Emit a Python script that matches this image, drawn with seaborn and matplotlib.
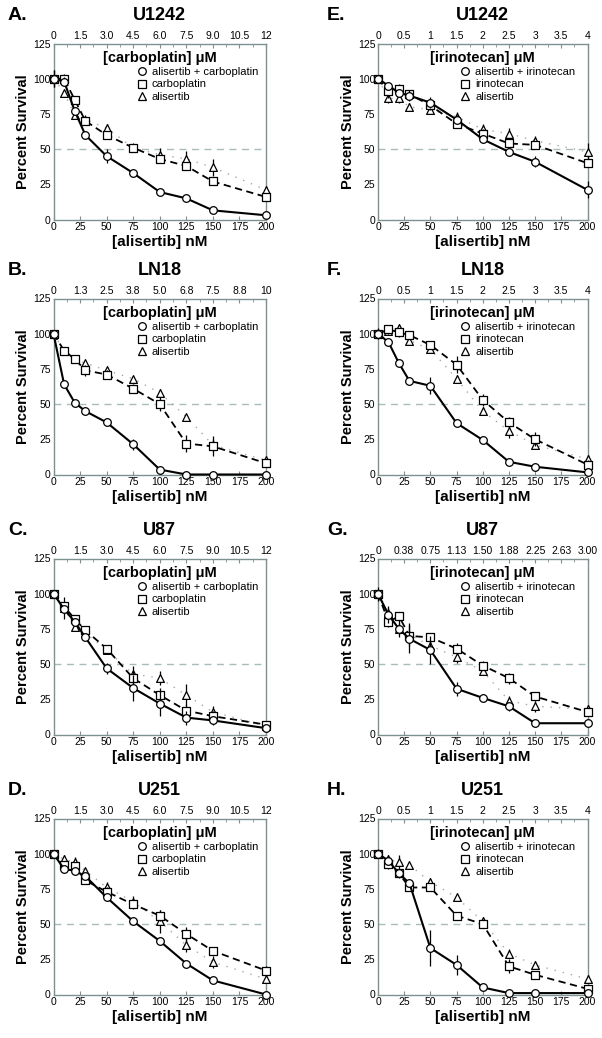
import matplotlib
matplotlib.use("Agg")
import matplotlib.pyplot as plt
from matplotlib.lines import Line2D
from matplotlib.ticker import MultipleLocator
import seaborn as sns
import pandas as pd

sns.set_theme(style="white")
plt.rcParams['font.family'] = ['Liberation Sans', 'DejaVu Sans']
plt.rcParams['text.color'] = 'black'
plt.rcParams['axes.labelcolor'] = 'black'
plt.rcParams['xtick.color'] = 'black'
plt.rcParams['ytick.color'] = 'black'

# ---------------- data ----------------
alisertib_nM = [0, 10, 20, 30, 50, 75, 100, 125, 150, 200]
bottom_ticks = [0, 25, 50, 75, 100, 125, 150, 175, 200]

top_carbo_12 = ["0", "1.5", "3.0", "4.5", "6.0", "7.5", "9.0", "10.5", "12"]
top_carbo_10 = ["0", "1.3", "2.5", "3.8", "5.0", "6.8", "7.5", "8.8", "10"]
top_irino_4 = ["0", "0.5", "1", "1.5", "2", "2.5", "3", "3.5", "4"]
top_irino_3 = ["0", "0.38", "0.75", "1.13", "1.50", "1.88", "2.25", "2.63", "3.00"]

panel_letters = ["A.", "B.", "C.", "D.", "E.", "F.", "G.", "H."]
cell_lines = ["U1242", "LN18", "U87", "U251", "U1242", "LN18", "U87", "U251"]
drugs = ["carboplatin"] * 4 + ["irinotecan"] * 4

# A: U1242 carboplatin
A_combo = [100, 98, 77, 60, 45, 33, 19.5, 15, 6.5, 3]
A_combo_err = [6, 3, 3, 2, 5, 3, 2, 2, 1.5, 1.5]
A_drug = [100, 100, 85, 70, 60, 51, 43, 38, 27, 16]
A_drug_err = [2, 3, 3, 3, 3, 3, 3, 3, 2, 3]
A_alis = [100, 90, 74, 71, 65, 51, 46, 43, 37, 21]
A_alis_err = [6, 2, 2, 3, 3, 2, 5, 6, 6, 3]

# B: LN18 carboplatin
B_combo = [100, 64, 51, 45, 37, 21.5, 3.5, 0, 0, 0]
B_combo_err = [2, 2, 2, 2, 2, 4, 2, 0.5, 0.5, 0.5]
B_drug = [100, 88, 82, 74, 71, 61, 50, 22, 20, 8]
B_drug_err = [2, 2, 2, 4, 3, 3, 5, 6, 7, 3]
B_alis = [100, 88, 82, 79, 74, 68, 58, 41, 21, 10]
B_alis_err = [2, 2, 2, 2, 2, 2, 3, 2, 4, 2]

# C: U87 carboplatin
C_combo = [100, 89, 80, 69, 47, 33, 22, 12, 10, 4.5]
C_combo_err = [2, 2, 2, 2, 4, 9, 9, 5, 3, 2]
C_drug = [100, 91, 82, 74, 61, 40, 28, 17, 13, 7]
C_drug_err = [2, 4, 2, 2, 2, 5, 5, 5, 4, 2]
C_alis = [100, 90, 76, 72, 60, 43, 40, 28, 16, 6]
C_alis_err = [2, 8, 2, 2, 2, 6, 5, 8, 4, 2]

# D: U251 carboplatin
D_combo = [100, 89, 88, 84, 69, 52, 38, 22, 10, 0]
D_combo_err = [2, 2, 2, 2, 2, 2, 2, 2, 2, 1]
D_drug = [100, 92, 91, 81, 73, 64, 56, 43, 31, 17]
D_drug_err = [2, 2, 2, 2, 3, 3, 4, 5, 2, 3]
D_alis = [100, 96, 94, 88, 76, 66, 52, 35, 23, 11]
D_alis_err = [2, 3, 4, 2, 4, 4, 8, 5, 4, 3]

# E: U1242 irinotecan
E_combo = [100, 95, 90, 88, 83, 71, 57, 48, 41, 21]
E_combo_err = [2, 3, 3, 4, 4, 3, 3, 3, 4, 6]
E_drug = [100, 91, 93, 89, 81, 68, 61, 54, 53, 40]
E_drug_err = [2, 5, 3, 3, 3, 3, 3, 4, 2, 3]
E_alis = [100, 86, 86, 80, 78, 73, 64, 61, 56, 48]
E_alis_err = [2, 3, 3, 3, 3, 3, 4, 4, 3, 6]

# F: LN18 irinotecan
F_combo = [100, 94, 79, 66.5, 63, 36.5, 24.5, 9, 5.5, 1.5]
F_combo_err = [4, 2, 2, 2, 6, 2, 1, 1, 1, 1]
F_drug = [100, 103, 101, 99, 92, 78, 53, 37, 25, 7]
F_drug_err = [3, 3, 3, 3, 3, 6, 4, 4, 5, 3]
F_alis = [100, 102, 104, 95, 89, 68, 45, 31, 21, 11]
F_alis_err = [3, 3, 3, 3, 3, 3, 3, 5, 3, 3]

# G: U87 irinotecan
G_combo = [100, 85, 75, 68, 60, 32.5, 26, 20, 8, 8]
G_combo_err = [5, 6, 6, 10, 10, 5, 3, 3, 1, 1]
G_drug = [100, 80, 84, 70, 69, 61, 49, 40, 27, 16]
G_drug_err = [2, 4, 3, 3, 3, 4, 3, 4, 3, 3]
G_alis = [100, 86, 75, 71, 63, 55, 45, 24, 20, 18]
G_alis_err = [2, 4, 4, 8, 4, 4, 3, 3, 4, 3]

# H: U251 irinotecan
H_combo = [100, 95, 86, 79, 33, 21, 5, 1, 1, 1]
H_combo_err = [3, 3, 2, 2, 13, 7, 1, 1, 0.5, 0.5]
H_drug = [100, 93, 86, 76, 76, 56, 50, 20, 14, 4]
H_drug_err = [2, 4, 3, 2, 2, 2, 3, 5, 2, 3]
H_alis = [100, 96, 94, 92, 80, 69, 52, 29, 21, 11]
H_alis_err = [2, 3, 5, 2, 3, 2, 3, 3, 3, 3]

panels = [
    (A_combo, A_combo_err, A_drug, A_drug_err, A_alis, A_alis_err, top_carbo_12),
    (B_combo, B_combo_err, B_drug, B_drug_err, B_alis, B_alis_err, top_carbo_10),
    (C_combo, C_combo_err, C_drug, C_drug_err, C_alis, C_alis_err, top_carbo_12),
    (D_combo, D_combo_err, D_drug, D_drug_err, D_alis, D_alis_err, top_carbo_12),
    (E_combo, E_combo_err, E_drug, E_drug_err, E_alis, E_alis_err, top_irino_4),
    (F_combo, F_combo_err, F_drug, F_drug_err, F_alis, F_alis_err, top_irino_4),
    (G_combo, G_combo_err, G_drug, G_drug_err, G_alis, G_alis_err, top_irino_3),
    (H_combo, H_combo_err, H_drug, H_drug_err, H_alis, H_alis_err, top_irino_4),
]

# ---------------- layout ----------------
W, H = 602, 1038
fig = plt.figure(figsize=(W / 100, H / 100), dpi=100)

col_left = [53.5, 378]
col_width = [212.5, 209.5]
row_top = [43.5, 298.5, 558.5, 818.5]
ax_h = 176

spine_col = '#7d9191'
ref_col = '#a9bcbc'
MS = 5.3

for i, (combo, combo_e, drug, drug_e, alis, alis_e, top_labels) in enumerate(panels):
    col = i // 4
    row = i % 4
    l = col_left[col] / W
    b = 1 - (row_top[row] + ax_h) / H
    ax = fig.add_axes([l, b, col_width[col] / W, ax_h / H])

    df = pd.DataFrame({
        'x': alisertib_nM * 3,
        'y': alis + drug + combo,
        'err': alis_e + drug_e + combo_e,
        'series': ['alisertib'] * 10 + [drugs[i]] * 10 + ['alisertib + ' + drugs[i]] * 10,
    })

    ax.axhline(50, color=ref_col, lw=1.0, ls=(0, (5, 4)), zorder=1)

    styles = {
        'alisertib': dict(marker='^', color='#a8a8a8', ls=(0, (1, 5)), lw=1.0, ms=MS + 0.3),
        drugs[i]: dict(marker='s', color='black', ls=(0, (4, 2.5)), lw=1.3, ms=MS),
        'alisertib + ' + drugs[i]: dict(marker='o', color='black', ls='-', lw=1.5, ms=MS + 0.2),
    }
    z = 3
    for name, st in styles.items():
        sub = df[df.series == name]
        ax.errorbar(sub.x, sub.y, yerr=sub.err, fmt='none', ecolor='black',
                    elinewidth=0.9, capsize=0, zorder=z, clip_on=False)
        sns.lineplot(data=sub, x='x', y='y', ax=ax, color=st['color'],
                     linestyle=st['ls'], linewidth=st['lw'], marker=None,
                     zorder=z, legend=False, clip_on=False)
        sns.scatterplot(data=sub, x='x', y='y', ax=ax, marker=st['marker'],
                        s=st['ms'] ** 2, facecolor='white', edgecolor='black',
                        linewidth=0.9, zorder=z + 1, legend=False, clip_on=False)
        z += 2

    ax.set_xlim(0, 200)
    ax.set_ylim(0, 125)
    ax.set_xticks(bottom_ticks)
    ax.set_yticks([0, 25, 50, 75, 100, 125])
    ax.yaxis.set_minor_locator(MultipleLocator(12.5))
    ax.tick_params(axis='both', which='major', direction='in', length=3,
                   width=0.8, color=spine_col, labelcolor='black', labelsize=7.5, pad=2)
    ax.tick_params(axis='y', which='minor', direction='in', length=2,
                   width=0.6, color=spine_col)
    ax.set_xlabel('[alisertib] nM', fontsize=11, fontweight='bold', labelpad=2)
    ax.set_ylabel('Percent Survival', fontsize=10.5, fontweight='bold', labelpad=2)
    for sp in ax.spines.values():
        sp.set_color(spine_col)
        sp.set_linewidth(1.0)

    top = ax.twiny()
    top.set_xlim(0, 200)
    top.set_xticks(bottom_ticks)
    top.set_xticklabels(top_labels)
    top.xaxis.set_minor_locator(MultipleLocator(12.5))
    top.tick_params(axis='x', which='major', direction='in', length=3, width=0.8,
                    color=spine_col, labelcolor='black', labelsize=7.5, pad=2)
    top.tick_params(axis='x', which='minor', direction='in', length=2, width=0.6,
                    color=spine_col)
    for sp in top.spines.values():
        sp.set_visible(False)

    ax.text(0.5, 0.915, '[' + drugs[i] + '] μM', transform=ax.transAxes,
            ha='center', va='center', fontsize=10.5, fontweight='bold')

    handles = [
        Line2D([], [], ls='none', marker='o', ms=MS + 0.2, mfc='white', mec='black', mew=0.9),
        Line2D([], [], ls='none', marker='s', ms=MS, mfc='white', mec='black', mew=0.9),
        Line2D([], [], ls='none', marker='^', ms=MS + 0.3, mfc='white', mec='black', mew=0.9),
    ]
    labels = ['alisertib + ' + drugs[i], drugs[i], 'alisertib']
    ax.legend(handles, labels, loc='upper left', bbox_to_anchor=(0.39, 0.865),
              frameon=False, fontsize=8, handlelength=1.0, handletextpad=0.4,
              labelspacing=0.2, borderaxespad=0, borderpad=0)

    cx = (col_left[col] + col_width[col] / 2) / W
    fig.text(cx, 1 - (row_top[row] - 28) / H, cell_lines[i], ha='center',
             va='center', fontsize=13, fontweight='bold')
    lx = [8, 327][col] / W
    fig.text(lx, 1 - (row_top[row] - 28) / H, panel_letters[i], ha='left',
             va='center', fontsize=14, fontweight='bold')

fig.savefig('out.png', dpi=100)
